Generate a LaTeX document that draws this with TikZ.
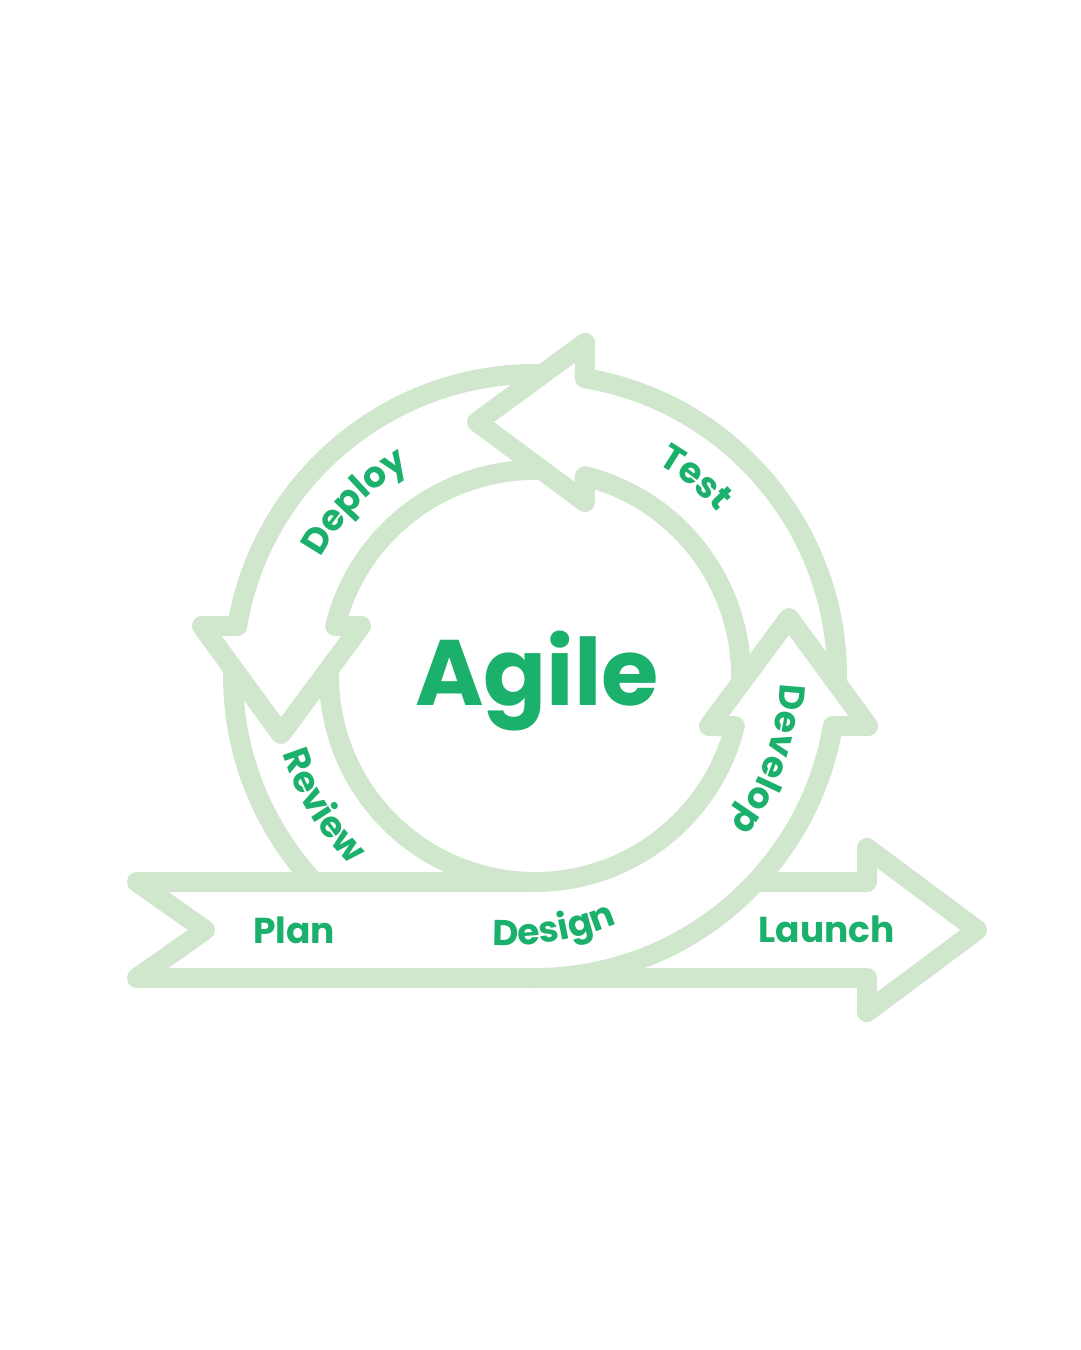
\documentclass[tikz,border=0pt]{standalone}
\usepackage{fontspec}
\setmainfont{Poppins}
\usepackage{tikz}
\usetikzlibrary{decorations.text}

\definecolor{ringgreen}{HTML}{D0E7CE}
\definecolor{textgreen}{HTML}{1BB06C}
\newcommand{\labelfont}{\fontsize{36}{40}\selectfont\bfseries}

\tikzset{
    ringline/.style={draw=ringgreen, fill=white, line width=20pt, line join=round, line cap=round},
    flatlabel/.style={anchor=base, inner sep=0pt, text=textgreen, font=\labelfont},
    curvedlabel/.style={decorate, decoration={text along path, text align=center, text color=textgreen, text={|\labelfont|#1}}}
}

\begin{document}
\begin{tikzpicture}[x=1pt, y=1pt]
        \useasboundingbox (-535,-674) rectangle (545,676);
        % review band, partly hidden by the banner
        \draw[ringline] (-297.8,50) -- (-199.8,50)
         arc[start angle=165.95, end angle=270, radius=206pt] -- (0,-302)
         arc[start angle=270, end angle=170.47, radius=302pt] -- cycle;
        % banner
        \draw[ringline] (-398,-206) -- (332,-206) -- (332,-172) -- (442,-254)
         -- (332,-336) -- (332,-302) -- (-398,-302) -- (-330,-254) -- cycle;
        % deploy
        \draw[ringline] (50,297.8) arc[start angle=80.47, end angle=170.47, radius=302pt]
         -- (-333,50) -- (-254,-58) -- (-174,50) -- (-199.8,50)
         arc[start angle=165.95, end angle=75.95, radius=206pt] -- cycle;
        % test
        \draw[ringline] (297.8,-50) arc[start angle=-9.53, end angle=80.47, radius=302pt]
         -- (50,333) -- (-58,254) -- (50,174) -- (50,199.8)
         arc[start angle=75.95, end angle=-14.05, radius=206pt] -- cycle;
        % develop, left open at the bottom
        \draw[ringline] (0,-206) arc[start angle=270, end angle=345.95, radius=206pt]
         -- (174,-50) -- (254,58) -- (333,-50) -- (297.8,-50)
         arc[start angle=350.47, end angle=270, radius=302pt];

        \node[anchor=base, text=textgreen, font=\fontsize{93}{97}\selectfont\bfseries] (agile) at (2,-29) {Agile};
        \node[flatlabel] (plan) at (-241,-267) {Plan};
        \node[flatlabel] (launch) at (291.5,-266) {Launch};

        \path[curvedlabel=Deploy] (166:245) arc[start angle=166, end angle=106, radius=245pt];
        \path[curvedlabel=Test] (81:245) arc[start angle=81, end angle=21, radius=245pt];
        \path[curvedlabel=Develop] (10.5:245) arc[start angle=10.5, end angle=-49.5, radius=245pt];
        \path[curvedlabel=Review] (181.5:264) arc[start angle=181.5, end angle=241.5, radius=264pt];
        \path[curvedlabel=Design] (-118.1,-252.4) arc[start angle=249.6, end angle=309.6, radius=270pt];
    \end{tikzpicture}
\end{document}
